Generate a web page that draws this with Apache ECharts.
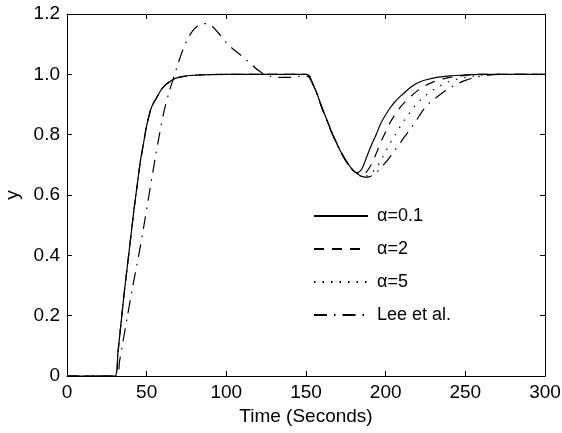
<!DOCTYPE html>
<html>
<head>
<meta charset="utf-8">
<script src="https://cdn.jsdelivr.net/npm/echarts@6/dist/echarts.min.js"></script>
<style>
  html, body { margin: 0; padding: 0; background: #fff; }
  #chart { width: 562px; height: 433px; }
</style>
</head>
<body>
<div id="chart"></div>
<script>
// step response + load disturbance at t=150, all curves share the set-point part
var seriesNames = ['\u03b1=0.1', '\u03b1=2', '\u03b1=5', 'Lee et al.'];
var xTicks = [0, 50, 100, 150, 200, 250, 300];
var yTicks = [0, 0.2, 0.4, 0.6, 0.8, 1.0, 1.2];

// common part of the three alpha curves (same until ~178 s)
var alphaHead = [
  [0, 0], [30, 0], [32, 0.08], [34, 0.18], [36, 0.28], [38, 0.37], [40, 0.46],
  [42, 0.55], [44, 0.63], [46, 0.71], [48, 0.77], [50, 0.83], [53, 0.89],
  [56, 0.92], [60, 0.955], [65, 0.978], [70, 0.99], [80, 0.997], [100, 1.0],
  [150, 1.0], [152, 0.995], [155, 0.96], [157, 0.935], [160, 0.89], [163, 0.85],
  [166, 0.81], [169, 0.775], [172, 0.742], [175, 0.715], [178, 0.692]
];

var alpha01Tail = [
  [180, 0.68], [182, 0.674], [184, 0.679], [186, 0.697], [188, 0.725], [191, 0.765],
  [194, 0.8], [197, 0.838], [200, 0.866], [203, 0.89], [206, 0.91], [209, 0.926],
  [213, 0.945], [217, 0.962], [221, 0.974], [226, 0.983], [232, 0.99], [240, 0.995],
  [250, 0.998], [260, 1.0], [300, 1.0]
];

var alpha2Tail = [
  [180, 0.679], [182, 0.671], [184, 0.666], [186, 0.668], [188, 0.677], [190, 0.692],
  [192, 0.712], [194, 0.737], [196, 0.762], [198, 0.787], [200, 0.81], [203, 0.842],
  [206, 0.868], [209, 0.89], [212, 0.908], [216, 0.928], [220, 0.946], [225, 0.963],
  [230, 0.975], [236, 0.985], [245, 0.994], [255, 0.999], [265, 1.0], [300, 1.0]
];

var alpha5Tail = [
  [180, 0.679], [182, 0.671], [184, 0.666], [186, 0.662], [188, 0.663], [190, 0.668],
  [192, 0.677], [194, 0.69], [196, 0.705], [198, 0.724], [200, 0.744], [202, 0.764],
  [204, 0.783], [206, 0.8], [209, 0.826], [212, 0.85], [215, 0.872], [218, 0.893],
  [221, 0.91], [224, 0.925], [228, 0.942], [232, 0.956], [237, 0.97], [242, 0.98],
  [250, 0.99], [260, 0.997], [272, 1.0], [300, 1.0]
];

var leeCurve = [
  [0, 0], [31, 0], [33, 0.05], [35, 0.11], [38, 0.2], [41, 0.29], [45, 0.4],
  [48, 0.49], [51, 0.585], [54, 0.68], [58, 0.8], [61, 0.88], [64, 0.94],
  [67, 0.99], [70, 1.04], [73, 1.085], [76, 1.12], [79, 1.145], [82, 1.16],
  [85, 1.168], [88, 1.168], [91, 1.16], [95, 1.137], [100, 1.105], [104, 1.085],
  [108, 1.068], [112, 1.05], [115, 1.038], [118, 1.022], [121, 1.01], [124, 1.0],
  [128, 0.993], [133, 0.99], [140, 0.99], [146, 0.993], [150, 0.993], [152, 0.99],
  [155, 0.958], [157, 0.932], [160, 0.888], [163, 0.848], [166, 0.808], [169, 0.772],
  [172, 0.74], [175, 0.712], [178, 0.69], [180, 0.678], [183, 0.666], [186, 0.66],
  [188, 0.659], [190, 0.661], [192, 0.666], [194, 0.674], [196, 0.684], [198, 0.696],
  [200, 0.708], [203, 0.728], [206, 0.75], [209, 0.772], [212, 0.794], [215, 0.815],
  [218, 0.837], [221, 0.862], [224, 0.885], [227, 0.903], [230, 0.916], [234, 0.932],
  [238, 0.948], [242, 0.96], [246, 0.971], [250, 0.98], [256, 0.99], [264, 0.997],
  [275, 1.0], [300, 1.0]
];

var curves = [
  alphaHead.concat(alpha01Tail),
  alphaHead.concat(alpha2Tail),
  alphaHead.concat(alpha5Tail),
  leeCurve
];
var dashes = ['solid', [10, 8], [1.5, 7], [13, 7, 1.5, 7]];

var chart = echarts.init(document.getElementById('chart'), null, { renderer: 'canvas' });
var font = 'Liberation Sans, Arial, Helvetica, sans-serif';

function frameAxis(pos, extra) {
  var ax = {
    type: 'value',
    position: pos,
    axisLine: { show: true, onZero: false, lineStyle: { color: '#000', width: 1 } },
    axisTick: { show: true, inside: true, length: 5, lineStyle: { color: '#000' } },
    axisLabel: { show: false },
    splitLine: { show: false }
  };
  return Object.assign(ax, extra);
}

var option = {
  animation: false,
  backgroundColor: '#fff',
  textStyle: { fontFamily: font },
  grid: { left: 67, right: 17, top: 14, bottom: 57, outerBoundsMode: 'none' },
  legend: {
    orient: 'vertical',
    left: 308,
    top: 201,
    itemWidth: 54,
    itemHeight: 20,
    itemGap: 13,
    data: seriesNames,
    itemStyle: { opacity: 0 },
    textStyle: { fontFamily: font, fontSize: 18, color: '#000', lineHeight: 20, padding: [0, 0, 0, 4] }
  },
  xAxis: [
    frameAxis('bottom', {
      min: 0, max: 300, interval: 50,
      name: 'Time (Seconds)',
      nameLocation: 'middle',
      nameGap: 27,
      nameTextStyle: { fontFamily: font, fontSize: 19, color: '#000' },
      axisLabel: {
        show: true, margin: 7, fontFamily: font, fontSize: 19, color: '#000',
        formatter: function (v) { return xTicks.indexOf(v) >= 0 ? String(v) : ''; }
      }
    }),
    frameAxis('top', { min: 0, max: 300, interval: 50 })
  ],
  yAxis: [
    frameAxis('left', {
      min: 0, max: 1.2, interval: 0.2,
      name: 'y',
      nameLocation: 'middle',
      nameGap: 44,
      nameTextStyle: { fontFamily: font, fontSize: 19, color: '#000' },
      axisLabel: {
        show: true, margin: 7, fontFamily: font, fontSize: 19, color: '#000',
        formatter: function (v) {
          var r = Math.round(v * 10) / 10;
          return r === 0 ? '0' : r.toFixed(1);
        }
      }
    }),
    frameAxis('right', { min: 0, max: 1.2, interval: 0.2 })
  ],
  series: seriesNames.map(function (name, i) {
    return {
      name: name,
      type: 'line',
      xAxisIndex: 0,
      yAxisIndex: 0,
      data: curves[i],
      symbol: 'none',
      symbolSize: 0,
      smooth: 0.3,
      lineStyle: { color: '#000', width: 1.2, type: dashes[i] },
      itemStyle: { color: '#000' },
      z: 10 - i
    };
  })
};

chart.setOption(option);
</script>
</body>
</html>
